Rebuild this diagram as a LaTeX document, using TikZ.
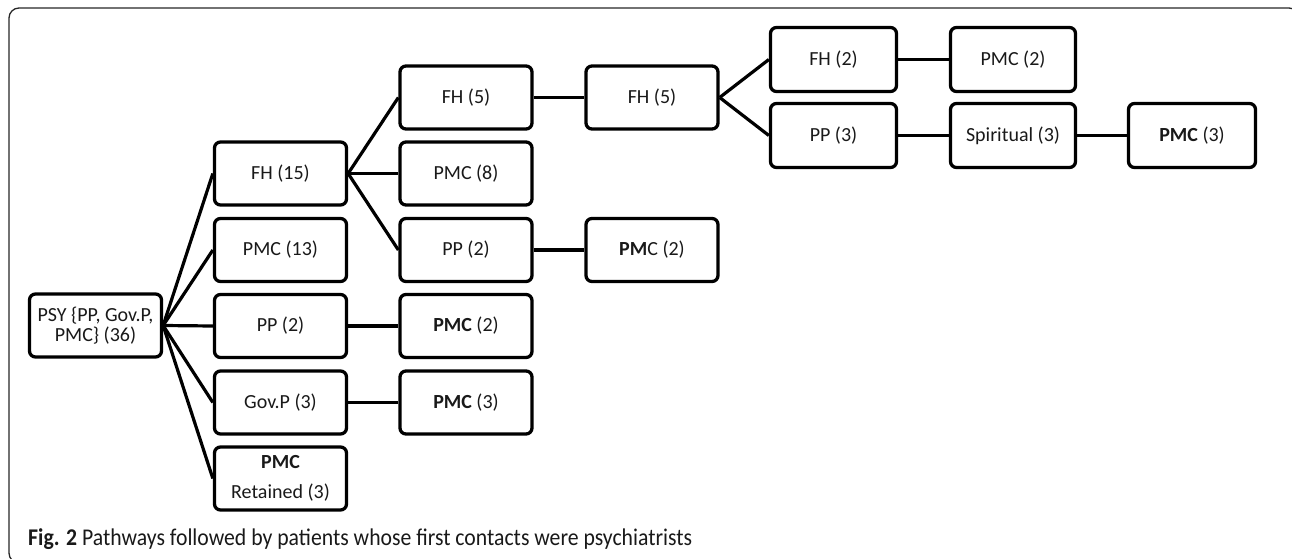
\documentclass[tikz,border=0pt]{standalone}
\usepackage{fontspec}
\setmainfont{Carlito}
\begin{document}
\begin{tikzpicture}[x=1pt,y=-1pt,
  box/.style={draw=black, line width=3.3pt, rounded corners=6pt, minimum width=132pt, minimum height=63pt, inner sep=0pt, align=center, font=\fontsize{20}{20.5}\selectfont, text=black!90},
  link/.style={draw=black, line width=3.2pt}]
\useasboundingbox (0,0) rectangle (1292,559);
\begin{scope}
\clip (0,0) rectangle (1292,559);
\draw[line width=1.3pt, black!85, rounded corners=10pt] (9,8) rectangle (1299,563);
\end{scope}
\node[box] (psy) at (95.5,325.5) {PSY \{PP, Gov.P,\\PMC\} (36)};
\node[box] (fh15) at (280.5,173.5) {FH (15)};
\node[box] (pmc13) at (280.5,250) {PMC (13)};
\node[box] (pp2a) at (280.5,326) {PP (2)};
\node[box] (govp) at (280.5,402.5) {Gov.P (3)};
\node[box] (pmcret) at (280.5,478.5) {\textbf{PMC}\\[9pt]Retained (3)};
\node[box] (fh5a) at (466,97.5) {FH (5)};
\node[box] (pmc8) at (466,173.5) {PMC (8)};
\node[box] (pp2b) at (466,250) {PP (2)};
\node[box] (pmc2a) at (466,326) {\textbf{PMC} (2)};
\node[box] (pmc3a) at (466,402.5) {\textbf{PMC} (3)};
\node[box] (fh5b) at (652,97.5) {FH (5)};
\node[box] (pmc2b) at (652,250) {\textbf{PM}C (2)};
\node[box, minimum width=126pt, minimum height=64pt] (fh2) at (833.5,59.5) {FH (2)};
\node[box, minimum width=126pt, minimum height=64pt] (pp3) at (833.5,135.5) {PP (3)};
\node[box, minimum width=125pt, minimum height=64pt] (pmc2c) at (1013,59.5) {PMC (2)};
\node[box, minimum width=125pt, minimum height=64pt] (spir) at (1013,135.5) {Spiritual (3)};
\node[box, minimum width=127pt, minimum height=64pt] (pmc3b) at (1192,135.5) {\textbf{PMC} (3)};
\foreach \t in {fh15,pmc13,pp2a,govp,pmcret}{\draw[link] (psy.east) -- (\t.west);}
\foreach \t in {fh5a,pmc8,pp2b}{\draw[link] (fh15.east) -- (\t.west);}
\draw[link] (pp2a) -- (pmc2a);
\draw[link] (govp) -- (pmc3a);
\draw[link] (fh5a) -- (fh5b);
\draw[link] (pp2b) -- (pmc2b);
\draw[link] (fh5b.east) -- (fh2.west);
\draw[link] (fh5b.east) -- (pp3.west);
\draw[link] (fh2) -- (pmc2c);
\draw[link] (pp3) -- (spir);
\draw[link] (spir) -- (pmc3b);
\node[anchor=base west, inner sep=0pt, font=\fontsize{24}{25}\selectfont, text=black!90] (cap) at (28,545) {\scalebox{0.905}[1]{\textbf{Fig. 2} Pathways followed by patients whose first contacts were psychiatrists}};
\end{tikzpicture}
\end{document}
